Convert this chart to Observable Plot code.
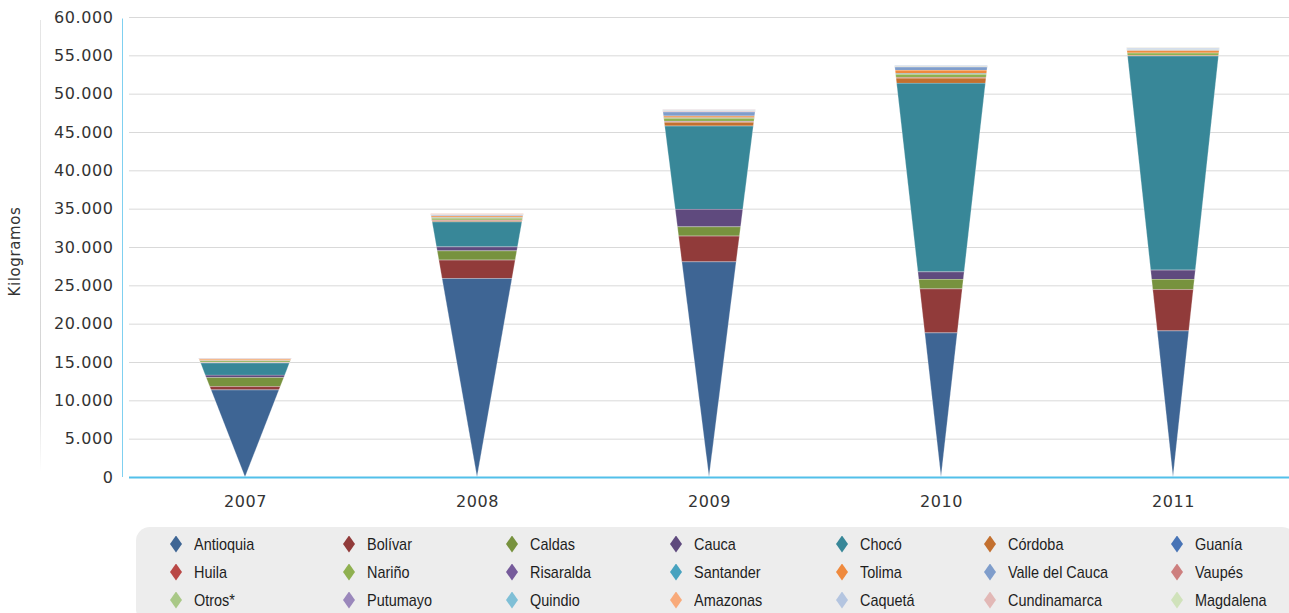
<!DOCTYPE html>
<html>
<head>
<meta charset="utf-8">
<script src="https://cdn.jsdelivr.net/npm/d3@7"></script>
<script src="https://cdn.jsdelivr.net/npm/@observablehq/plot@0.6"></script>
<style>
  html, body { margin: 0; padding: 0; background: #fff; }
  #wrap { position: relative; width: 1289px; height: 613px; overflow: hidden; }
  #chart { position: absolute; left: 0; top: 0; }
  #vline { position: absolute; left: 40px; top: 20px; width: 1px; height: 452px; background: linear-gradient(#e6e6e6, #d4d4d4 80%, #fff); }
  #legend { position: absolute; left: 136px; top: 527px; width: 1160px; height: 96px; background: #ededed; border-radius: 14px; }
  .li { position: absolute; font-family: "Liberation Sans", Arial, sans-serif; font-size: 17px; color: #1e1e1e; white-space: nowrap; line-height: 17px; transform: scaleX(0.85); transform-origin: 0 50%; }
  .dm { position: absolute; width: 12px; height: 17px; clip-path: polygon(50% 0, 100% 50%, 50% 100%, 0 50%); }
</style>
</head>
<body>
<div id="wrap">
  <div id="vline"></div>
  <div id="chart"></div>
  <div id="legend"></div>
</div>
<script>
// ---- data ----
const years = ["2007", "2008", "2009", "2010", "2011"];
const regions = ["Antioquia", "Bolívar", "Caldas", "Cauca", "Chocó", "Córdoba", "Guanía",
  "Huila", "Nariño", "Risaralda", "Santander", "Tolima", "Valle del Cauca", "Vaupés",
  "Otros*", "Putumayo", "Quindio", "Amazonas", "Caquetá", "Cundinamarca", "Magdalena"];
const colors = ["#3e6594", "#913b3a", "#77923e", "#5f4a7e", "#388798", "#c3702f", "#4874b6",
  "#b94846", "#8fb050", "#765b9b", "#47a2bf", "#ef8a3e", "#7f9dcb", "#cd7f7e",
  "#a9c887", "#9a87bb", "#7fbfd6", "#f8aa7a", "#b4c5e0", "#e2b8b6", "#d0e2bb"];

const antioquia    = [11400, 25940, 28110, 18840, 19100];
const bolivar      = [440, 2390, 3350, 5740, 5400];
const caldas       = [1180, 1210, 1220, 1230, 1310];
const cauca        = [300, 520, 2270, 990, 1210];
const choco        = [1600, 3260, 10870, 24600, 27940];
const cordoba      = [50, 150, 490, 650, 80];
const guania       = [0, 0, 50, 0, 0];
const huila        = [30, 80, 80, 100, 0];
const narino       = [200, 250, 390, 400, 300];
const risaralda    = [20, 30, 0, 0, 0];
const santander    = [0, 40, 50, 100, 0];
const tolima       = [170, 200, 230, 430, 330];
const valle        = [60, 100, 550, 450, 80];
const vaupes       = [30, 80, 80, 30, 0];
const otros        = [0, 0, 50, 50, 50];
const putumayo     = [0, 0, 30, 0, 0];
const quindio      = [0, 20, 0, 0, 0];
const amazonas     = [0, 60, 0, 0, 0];
const caqueta      = [0, 0, 80, 50, 150];
const cundinamarca = [40, 50, 40, 0, 50];
const magdalena    = [0, 0, 0, 0, 20];

const series = [antioquia, bolivar, caldas, cauca, choco, cordoba, guania, huila, narino,
  risaralda, santander, tolima, valle, vaupes, otros, putumayo, quindio, amazonas,
  caqueta, cundinamarca, magdalena];

const yTicks = d3.range(0, 60001, 5000);

// ---- build cone segments (width proportional to height within each year's cone) ----
const rows = [];
years.forEach((yr, i) => {
  const total = d3.sum(series, s => s[i]);
  let acc = 0;
  regions.forEach((r, k) => {
    const v = series[k][i];
    if (!v) return;
    const y0 = acc, y1 = acc + v;
    acc = y1;
    const id = yr + "|" + r;
    for (const y of [y0, y1]) {
      rows.push({id, region: r, y, x1: i - 0.2 * y / total, x2: i + 0.2 * y / total});
    }
  });
});

const fmt = d => d3.format(",")(d).replace(/,/g, ".");

const chart = Plot.plot({
  width: 1289,
  height: 520,
  marginLeft: 129,
  marginRight: 0,
  marginTop: 17,
  marginBottom: 43,
  x: {domain: [-0.5, 4.5], axis: null},
  y: {domain: [0, 60000], axis: null},
  color: {domain: regions, range: colors},
  style: {fontFamily: "'DejaVu Sans', sans-serif", fontSize: "16px", color: "#333", background: "transparent", overflow: "visible"},
  marks: [
    Plot.gridY(yTicks, {stroke: "#d9d9d9", strokeOpacity: 1}),
    Plot.areaX(rows, {x1: "x1", x2: "x2", y: "y", z: "id", fill: "region", stroke: "#ffffff", strokeWidth: 0.5, strokeOpacity: 0.5, curve: "linear"}),
    Plot.ruleY([0], {stroke: "#52c0ea", strokeWidth: 2}),
    Plot.ruleX([-0.5], {y1: 0, y2: 59800, dx: -7, stroke: "#7fd0f0", strokeWidth: 1}),
    Plot.axisY(yTicks, {tickSize: 0, tickPadding: 16, tickFormat: fmt, fontSize: 16, label: null, fill: "#333"}),
    Plot.axisX(d3.range(years.length), {tickSize: 0, tickPadding: 18, tickFormat: i => years[i], fontSize: 16, label: null, fill: "#333"}),
    Plot.text(["Kilogramos"], {frameAnchor: "left", dx: -114, dy: 4, rotate: -90, textAnchor: "middle", fontSize: 15, fill: "#333"})
  ]
});
chart.querySelectorAll("text").forEach(t => t.style.letterSpacing = "0.6px");
document.getElementById("chart").appendChild(chart);

// ---- legend ----
const legend = document.getElementById("legend");
const colX = [176, 349, 512, 676, 842, 990, 1177];
const rowY = [544, 572, 600];
regions.forEach((r, k) => {
  const cx = colX[k % 7], cy = rowY[Math.floor(k / 7)];
  const d = document.createElement("div");
  d.className = "dm";
  d.style.left = (cx - 6 - 136) + "px";
  d.style.top = (cy - 8.5 - 527) + "px";
  d.style.background = colors[k];
  legend.appendChild(d);
  const t = document.createElement("div");
  t.className = "li";
  t.textContent = r;
  t.style.left = (cx + 18 - 136) + "px";
  t.style.top = (cy - 8.5 - 527) + "px";
  legend.appendChild(t);
});
</script>
</body>
</html>
